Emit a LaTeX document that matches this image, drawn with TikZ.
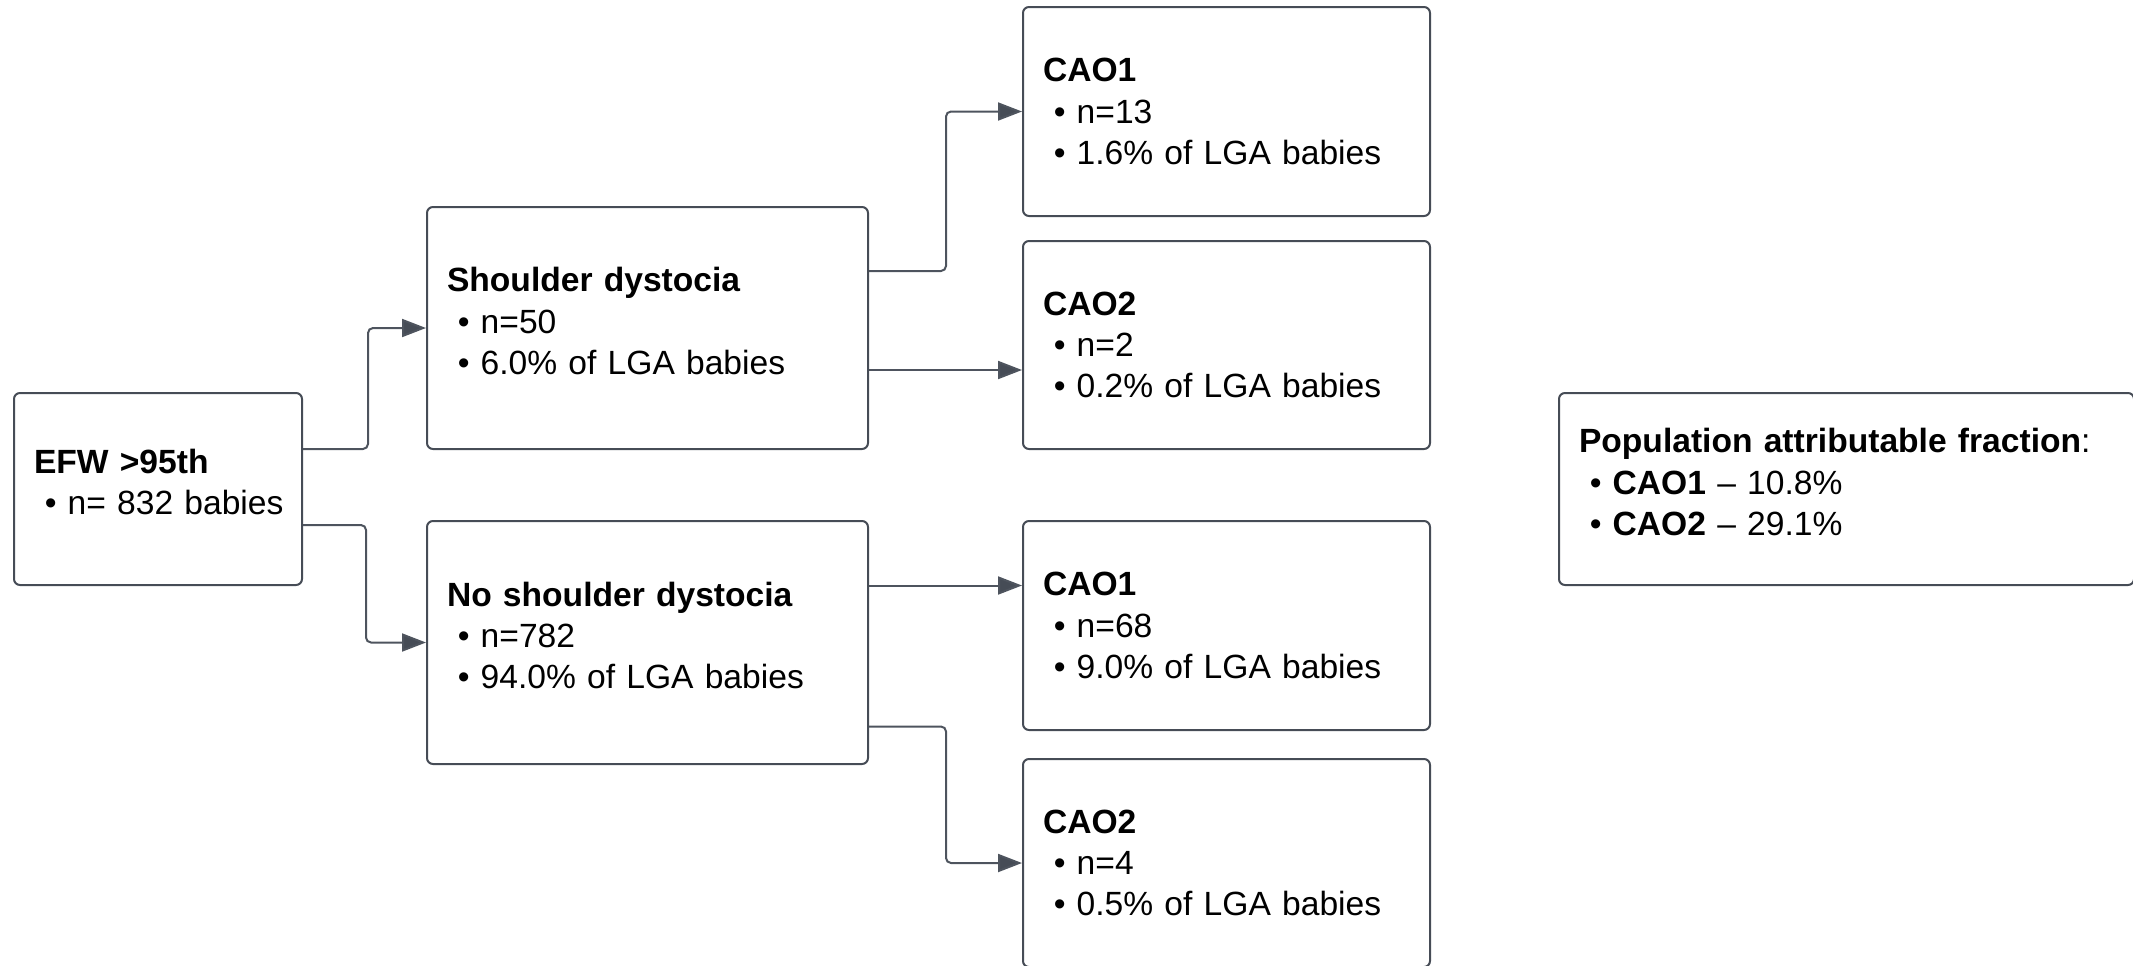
\documentclass[tikz,border=0pt]{standalone}
\usepackage{fontspec}
\setmainfont{Liberation Sans}
\usetikzlibrary{arrows.meta, positioning}
\definecolor{framegray}{RGB}{70,76,86}
\definecolor{wiregray}{RGB}{78,84,94}
\newcommand{\bul}{\hspace*{0.32em}\textbullet\ }
\newcommand{\lift}{\rule[-7pt]{0pt}{0pt}}

\begin{document}
\begin{tikzpicture}[x=0.5pt, y=-0.5pt, thick]
        % Define block styles
        \tikzstyle{box} = [rectangle, draw=framegray, line width=1pt, rounded corners=3pt, inner xsep=10pt, inner ysep=0pt, align=left, font=\fontsize{16.8pt}{20.6pt}\selectfont]
        \tikzstyle{line} = [draw=wiregray, line width=1pt, rounded corners=2.5pt, -{Triangle[length=12pt, width=9pt, fill=framegray]}]

        \useasboundingbox (0,0) rectangle (2133,965);

        % Define nodes
        \node [box, text width=124pt, minimum height=96pt] (efw) at (158,489) {\textbf{EFW >95th}\\\mbox{\bul n= 832 babies}\lift};
        \node [box, text width=200.5pt, minimum height=121pt] (sd) at (647.5,328) {\textbf{Shoulder dystocia}\\\bul n=50\\\bul 6.0\% of LGA babies\lift};
        \node [box, text width=200.5pt, minimum height=121.5pt] (nsd) at (647.5,642.5) {\textbf{No shoulder dystocia}\\\bul n=782\\\bul 94.0\% of LGA babies\lift};
        \node [box, text width=183.5pt, minimum height=104.5pt] (caoA) at (1226.5,111.5) {\textbf{CAO1}\\\bul n=13\\\bul 1.6\% of LGA babies};
        \node [box, text width=183.5pt, minimum height=104pt] (caoB) at (1226.5,345) {\textbf{CAO2}\\\bul n=2\\\bul 0.2\% of LGA babies};
        \node [box, text width=183.5pt, minimum height=104.5pt] (caoC) at (1226.5,625.5) {\textbf{CAO1}\\\bul n=68\\\bul 9.0\% of LGA babies};
        \node [box, text width=183.5pt, minimum height=104pt] (caoD) at (1226.5,863) {\textbf{CAO2}\\\bul n=4\\\bul 0.5\% of LGA babies};
        \node [box, text width=267.5pt, minimum height=96pt] (paf) at (1846.5,489) {\textbf{Population attributable fraction}:\\\bul \textbf{CAO1} -- 10.8\%\\\bul \textbf{CAO2} -- 29.1\%\lift};

        \coordinate (sdlow) at ([yshift=-21pt]sd.east);
        \coordinate (nsdhigh) at ([yshift=28.5pt]nsd.east);

        % Connect nodes with paths
        \draw[line] ([yshift=20pt]efw.east) -- ++(65,0) |- (sd.west);
        \draw[line] ([yshift=-18pt]efw.east) -- ++(63,0) |- (nsd.west);
        \draw[line] ([yshift=28.5pt]sd.east) -- ++(77,0) |- (caoA.west);
        \draw[line] (sdlow) -- (sdlow -| caoB.west);
        \draw[line] (nsdhigh) -- (nsdhigh -| caoC.west);
        \draw[line] ([yshift=-42pt]nsd.east) -- ++(77,0) |- (caoD.west);

\end{tikzpicture}
\end{document}
